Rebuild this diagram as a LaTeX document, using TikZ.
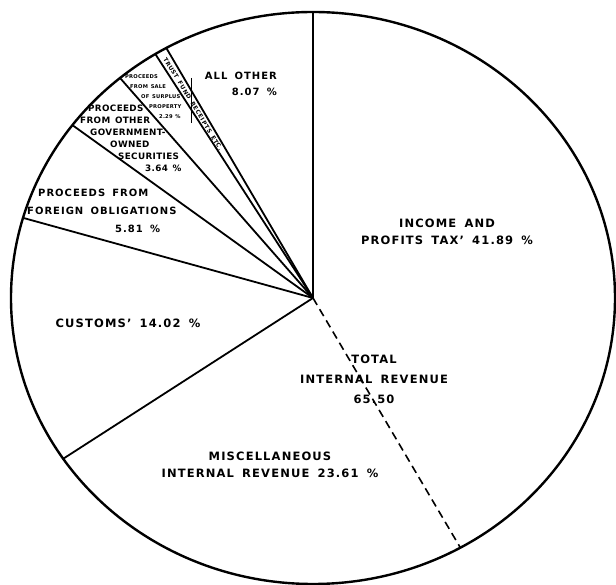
\documentclass[tikz,border=0pt]{standalone}
\usepackage{fontspec}
\setmainfont[LetterSpace=10,WordSpace=1.6]{DejaVu Sans}
\newfontfamily\tightfont[LetterSpace=4,WordSpace=1.4]{DejaVu Sans}

\begin{document}
\begin{tikzpicture}[x=1pt,y=1pt,
    rim/.style={line width=2.4pt},
    spoke/.style={line width=1.8pt},
    bigtext/.style={align=center,inner sep=0pt,font=\bfseries\fontsize{11.5}{17}\selectfont},
    midtext/.style={align=left,inner sep=0pt,font=\tightfont\bfseries\fontsize{8.8}{12}\selectfont},
    tinytext/.style={align=left,inner sep=0pt,font=\tightfont\bfseries\fontsize{5.2}{10}\selectfont}]

    \useasboundingbox (-313,-287) rectangle (303,298);

    % outer rim of the pie
    \coordinate (o) at (0,0);
    \draw[rim] (o) ellipse [x radius=302, y radius=286];

    % slice borders, going round from the top
    \foreach \a [count=\i] in {90,-145.80,163.73,142.81,129.71,121.47,119.06} {
      \coordinate (b\i) at (\a:302pt and 286pt);
      \draw[spoke] (o) -- (b\i);
    }

    % income tax / misc border is dashed
    \coordinate (bd) at (-60.80:302pt and 286pt);
    \draw[line width=1.6pt,dash pattern=on 8pt off 5pt] (o) -- (bd);

    % stray mark in the surplus slice
    \coordinate (m1) at (-122,220);
    \coordinate (m2) at (-122,175);
    \draw[line width=.8pt] (m1) -- (m2);

    \node[bigtext] (income) at (134,66.5) {INCOME AND\\PROFITS TAX' 41.89 \%};
    \node[bigtext,font=\bfseries\fontsize{11.5}{20}\selectfont] (total) at (61,-81.5) {TOTAL\\INTERNAL REVENUE\\65.50};
    \node[bigtext] (misc) at (-43,-166.5) {MISCELLANEOUS\\INTERNAL REVENUE 23.61 \%};
    \node[bigtext] (customs) at (-185,-25) {CUSTOMS' 14.02 \%};
    \node[bigtext,align=right,anchor=east,font=\bfseries\fontsize{10}{16}\selectfont] (allother) at (-36,214) {ALL OTHER\\8.07 \%};

    \node[bigtext,align=left,anchor=west,font=\bfseries\fontsize{10}{18}\selectfont] (foreign) at (-286,87)
      {\hspace*{11pt}PROCEEDS FROM\\FOREIGN OBLIGATIONS\\\hspace*{88pt}5.81 \%};
    \node[midtext,anchor=west] (govt) at (-233,160)
      {\hspace*{8pt}PROCEEDS\\FROM OTHER\\\hspace*{10pt}GOVERNMENT-\\\hspace*{30pt}OWNED\\\hspace*{38pt}SECURITIES\\\hspace*{65pt}3.64 \%};
    \node[tinytext,anchor=west] (surplus) at (-188,201)
      {PROCEEDS\\\hspace*{5pt}FROM SALE\\\hspace*{16pt}OF SURPLUS\\\hspace*{24pt}PROPERTY\\\hspace*{34pt}2.29 \%};
    \node[bigtext,font=\bfseries\fontsize{5.8}{8}\selectfont,rotate=-58.5] (trust) at (-120,194) {TRUST FUND RECEIPTS ETC.};

\end{tikzpicture}
\end{document}
